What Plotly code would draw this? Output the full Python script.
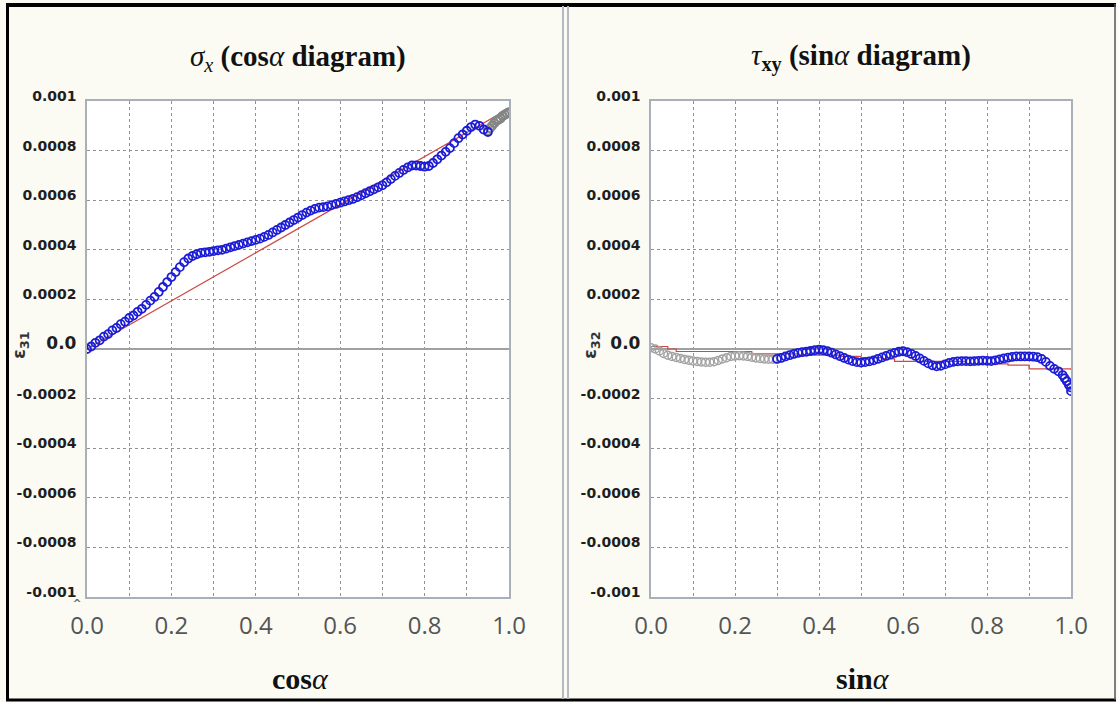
import plotly.graph_objects as go

# ---- data: left panel (cos alpha diagram) ----
cos_x = [0.00, 0.01, 0.02, 0.03, 0.04, 0.05, 0.06, 0.07, 0.08, 0.09,
         0.10, 0.11, 0.12, 0.13, 0.14, 0.15, 0.16, 0.17, 0.18, 0.19,
         0.20, 0.21, 0.22, 0.23, 0.24, 0.25, 0.26, 0.27, 0.28, 0.29,
         0.30, 0.31, 0.32, 0.33, 0.34, 0.35, 0.36, 0.37, 0.38, 0.39,
         0.40, 0.41, 0.42, 0.43, 0.44, 0.45, 0.46, 0.47, 0.48, 0.49,
         0.50, 0.51, 0.52, 0.53, 0.54, 0.55, 0.56, 0.57, 0.58, 0.59,
         0.60, 0.61, 0.62, 0.63, 0.64, 0.65, 0.66, 0.67, 0.68, 0.69,
         0.70, 0.71, 0.72, 0.73, 0.74, 0.75, 0.76, 0.77, 0.78, 0.79,
         0.80, 0.81, 0.82, 0.83, 0.84, 0.85, 0.86, 0.87, 0.88, 0.89,
         0.90, 0.91, 0.92, 0.93, 0.94, 0.95]
eps31_measured = [0.0, 0.00001, 0.000025, 0.000035, 0.00005, 0.00006, 0.000075, 0.000085, 0.0001, 0.00011,
                  0.000125, 0.000135, 0.00015, 0.000162, 0.000178, 0.000195, 0.00021, 0.00023, 0.00025, 0.00027,
                  0.00029, 0.00031, 0.00033, 0.00035, 0.000365, 0.000375, 0.000382, 0.000388, 0.00039, 0.000392,
                  0.000395, 0.000398, 0.0004, 0.000405, 0.00041, 0.000415, 0.00042, 0.000425, 0.00043, 0.000435,
                  0.00044, 0.000445, 0.000452, 0.00046, 0.00047, 0.00048, 0.00049, 0.0005, 0.00051, 0.00052,
                  0.00053, 0.00054, 0.00055, 0.000558, 0.000565, 0.00057, 0.000572, 0.000575, 0.00058, 0.000585,
                  0.00059, 0.000595, 0.0006, 0.000605, 0.000612, 0.00062, 0.000628, 0.000636, 0.000644, 0.000652,
                  0.00066, 0.000672, 0.000685, 0.000698, 0.00071, 0.000722, 0.000732, 0.00074, 0.00074, 0.000738,
                  0.000735, 0.000738, 0.00075, 0.000765, 0.00078, 0.000795, 0.00081, 0.00083, 0.00085, 0.000865,
                  0.00088, 0.000895, 0.000905, 0.0009, 0.000885, 0.000875]
cos_x_tail = [0.95, 0.955, 0.96, 0.965, 0.97, 0.975, 0.98, 0.985, 0.99, 0.995, 1.00]
eps31_tail = [0.00088, 0.00089, 0.0009, 0.00091, 0.00092, 0.000925, 0.00093, 0.00094, 0.000945, 0.00095, 0.000955]
cos_fit_x = [0.0, 1.0]
eps31_fit = [0.0, 0.00097]

# ---- data: right panel (sin alpha diagram) ----
sin_x_head = [0.00, 0.01, 0.02, 0.03, 0.04, 0.05, 0.06, 0.07, 0.08, 0.09,
              0.10, 0.11, 0.12, 0.13, 0.14, 0.15, 0.16, 0.17, 0.18, 0.19,
              0.20, 0.21, 0.22, 0.23, 0.24, 0.25, 0.26, 0.27, 0.28, 0.29, 0.30]
eps32_head = [0.000005, 0.0, -0.000008, -0.000018, -0.000025, -0.00003, -0.000034, -0.000038, -0.000042, -0.000045,
              -0.000048, -0.00005, -0.000052, -0.000053, -0.000053, -0.000051, -0.000046, -0.00004, -0.000035, -0.00003,
              -0.000028, -0.000027, -0.000028, -0.00003, -0.000033, -0.000036, -0.000038, -0.00004, -0.000041, -0.000041,
              -0.00004]
sin_x = [0.30, 0.31, 0.32, 0.33, 0.34, 0.35, 0.36, 0.37, 0.38, 0.39,
         0.40, 0.41, 0.42, 0.43, 0.44, 0.45, 0.46, 0.47, 0.48, 0.49,
         0.50, 0.51, 0.52, 0.53, 0.54, 0.55, 0.56, 0.57, 0.58, 0.59,
         0.60, 0.61, 0.62, 0.63, 0.64, 0.65, 0.66, 0.67, 0.68, 0.69,
         0.70, 0.71, 0.72, 0.73, 0.74, 0.75, 0.76, 0.77, 0.78, 0.79,
         0.80, 0.81, 0.82, 0.83, 0.84, 0.85, 0.86, 0.87, 0.88, 0.89,
         0.90, 0.91, 0.92, 0.93, 0.94, 0.95, 0.96, 0.97, 0.98, 0.985,
         0.99, 0.995, 1.00, 1.00]
eps32_measured = [-0.00004, -0.000036, -0.00003, -0.000025, -0.00002, -0.000016, -0.000013, -0.000011, -0.000008, -0.000005,
                  -0.000003, -0.000005, -0.000009, -0.000015, -0.000022, -0.000029, -0.000036, -0.000043, -0.000049, -0.000053,
                  -0.000055, -0.000053, -0.00005, -0.000046, -0.00004, -0.000034, -0.000028, -0.000022, -0.000016, -0.000011,
                  -0.000009, -0.000013, -0.00002, -0.000028, -0.000038, -0.000048, -0.000058, -0.000066, -0.00007, -0.000068,
                  -0.000062, -0.000056, -0.000052, -0.00005, -0.000049, -0.000049, -0.00005, -0.000049, -0.000048, -0.000047,
                  -0.000048, -0.000049, -0.000046, -0.000042, -0.000038, -0.000035, -0.000032, -0.00003, -0.00003, -0.00003,
                  -0.00003, -0.000031, -0.000033, -0.00004, -0.000052, -0.000068, -0.00008, -0.00009, -0.000105, -0.000118,
                  -0.00013, -0.000145, -0.000155, -0.00017]
sin_fit_x = [0.0, 0.04, 0.06, 0.20, 0.24, 0.35, 0.45, 0.50, 0.55, 0.58, 0.70, 0.75, 0.85, 0.90, 1.00]
eps32_fit = [0.00001, 0.0, -0.00001, -0.00001, -0.00002, -0.000025, -0.00003, -0.000035, -0.00004, -0.00005,
             -0.00005, -0.00006, -0.000065, -0.00008, -0.000085]

# ---- axis ticks ----
x_ticks = [0.0, 0.1, 0.2, 0.3, 0.4, 0.5, 0.6, 0.7, 0.8, 0.9, 1.0]
x_ticktext = ["0.0", "", "0.2", "", "0.4", "", "0.6", "", "0.8", "", "1.0"]
y_ticks = [0.001, 0.0008, 0.0006, 0.0004, 0.0002, 0.0, -0.0002, -0.0004, -0.0006, -0.0008, -0.001]
y_ticktext = ["0.001", "0.0008", "0.0006", "0.0004", "0.0002",
              "<span style='font-size:17px'>0.0</span>",
              "-0.0002", "-0.0004", "-0.0006", "-0.0008", "-0.001"]

W, H = 1118, 702
BLUE = "#1c1cd6"
RED = "#cc4a44"


def px(x):
    return x / W


def py(y):
    return 1 - y / H


fig = go.Figure()

# left panel
fig.add_trace(go.Scatter(x=cos_fit_x, y=eps31_fit, mode="lines",
                         line=dict(color=RED, width=1.2), xaxis="x", yaxis="y"))
fig.add_trace(go.Scatter(x=cos_x_tail, y=eps31_tail, mode="markers",
                         marker=dict(symbol="circle-open", size=8, color="#858585", line=dict(width=2)),
                         xaxis="x", yaxis="y"))
fig.add_trace(go.Scatter(x=cos_x, y=eps31_measured, mode="markers",
                         marker=dict(symbol="circle-open", size=8, color=BLUE, line=dict(width=1.8)),
                         xaxis="x", yaxis="y"))

# right panel
fig.add_trace(go.Scatter(x=sin_fit_x, y=eps32_fit, mode="lines", line_shape="hv",
                         line=dict(color=RED, width=1.2), xaxis="x2", yaxis="y2"))
fig.add_trace(go.Scatter(x=sin_x_head, y=eps32_head, mode="markers",
                         marker=dict(symbol="circle-open", size=8, color="#a3a3a3", line=dict(width=1.5)),
                         xaxis="x2", yaxis="y2"))
fig.add_trace(go.Scatter(x=sin_x, y=eps32_measured, mode="markers",
                         marker=dict(symbol="circle-open", size=8, color=BLUE, line=dict(width=1.8)),
                         xaxis="x2", yaxis="y2"))

axis_common = dict(showline=True, mirror=True, linecolor="#a9b0ba", linewidth=1.5,
                   showgrid=True, gridcolor="#929292", gridwidth=1, griddash="3px,3px",
                   ticks="", automargin=False, fixedrange=True)

xdom_l = [px(87), px(509)]
xdom_r = [px(651), px(1071)]
ydom = [py(597), py(101)]

xa = dict(axis_common, range=[0, 1], tickvals=x_ticks, ticktext=x_ticktext, zeroline=False,
          tickfont=dict(family="Open Sans", size=24, color="#555555"), ticklabelstandoff=6)
ya = dict(axis_common, range=[-0.001, 0.001], tickvals=y_ticks, ticktext=y_ticktext,
          zeroline=True, zerolinecolor="#a0a0a0", zerolinewidth=1.5,
          tickfont=dict(family="DejaVu Sans", size=14, color="#1e1e1e", weight="bold"),
          ticklabelstandoff=6, ticklabelshift=-5)

fig.update_layout(
    width=W, height=H,
    margin=dict(l=0, r=0, t=0, b=0),
    template="none",
    paper_bgcolor="#fbfbf4",
    plot_bgcolor="#ffffff",
    showlegend=False,
    xaxis=dict(xa, domain=xdom_l, anchor="y"),
    yaxis=dict(ya, domain=ydom, anchor="x"),
    xaxis2=dict(xa, domain=xdom_r, anchor="y2"),
    yaxis2=dict(ya, domain=ydom, anchor="x2"),
)

serif = "Liberation Serif"
annos = [
    dict(x=px(298), y=py(58), text="<i>σ</i><sub><i>x</i></sub> <b>(cos</b><i>α</i><b> diagram)</b>",
         font=dict(family=serif, size=29, color="#111111")),
    dict(x=px(861), y=py(58), text="<i>τ</i><sub><b>xy</b></sub> <b>(sin</b><i>α</i><b> diagram)</b>",
         font=dict(family=serif, size=29, color="#111111")),
    dict(x=px(300), y=py(678), text="<b>cos</b><i>α</i>",
         font=dict(family=serif, size=30, color="#111111")),
    dict(x=px(863), y=py(678), text="<b>sin</b><i>α</i>",
         font=dict(family=serif, size=30, color="#111111")),
    dict(x=px(20), y=py(345), text="<b>ε<sub>31</sub></b>", textangle=-90,
         font=dict(family="DejaVu Sans", size=18, color="#333333")),
    dict(x=px(591), y=py(345), text="<b>ε<sub>32</sub></b>", textangle=-90,
         font=dict(family="DejaVu Sans", size=18, color="#333333")),
    dict(x=px(77), y=py(606), text="ˆ",
         font=dict(family="Open Sans", size=20, color="#666666")),
]
for a in annos:
    a.update(xref="paper", yref="paper", showarrow=False, xanchor="center", yanchor="middle")
fig.update_layout(annotations=annos)

# outer frame and the double divider between the two panels
shapes = [
    dict(type="line", x0=px(7.5), x1=px(7.5), y0=py(4), y1=py(700), line=dict(color="#000000", width=3)),
    dict(type="line", x0=px(6), x1=px(1116), y0=py(5), y1=py(5), line=dict(color="#000000", width=4)),
    dict(type="line", x0=px(6), x1=px(1116), y0=py(700), y1=py(700), line=dict(color="#000000", width=3)),
    dict(type="line", x0=px(1115), x1=px(1115), y0=py(4), y1=py(700), line=dict(color="#555555", width=1.5)),
    dict(type="line", x0=px(563), x1=px(563), y0=py(6), y1=py(699), line=dict(color="#b4b9c2", width=2)),
    dict(type="line", x0=px(568), x1=px(568), y0=py(6), y1=py(699), line=dict(color="#b4b9c2", width=2)),
]
for s in shapes:
    s.update(xref="paper", yref="paper", layer="above")
fig.update_layout(shapes=shapes)

fig.write_html("out.html", config={"displayModeBar": False})
